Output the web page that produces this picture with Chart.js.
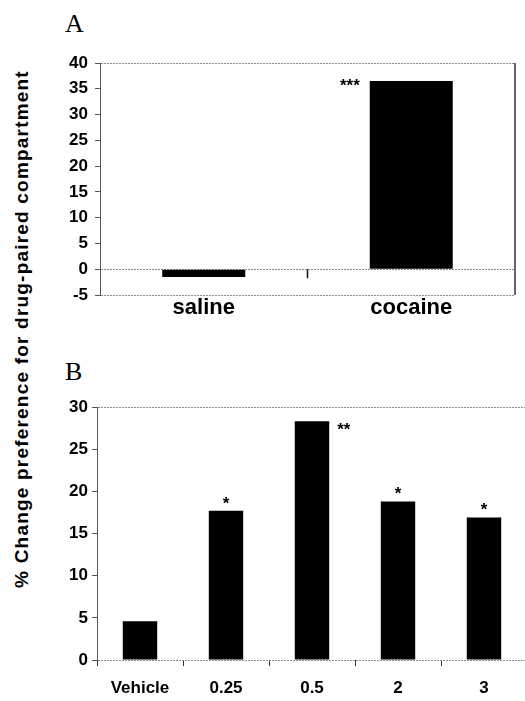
<!DOCTYPE html>
<html>
<head>
<meta charset="utf-8">
<script src="https://cdn.jsdelivr.net/npm/chart.js@4/dist/chart.umd.min.js"></script>
<style>
  html, body { margin: 0; padding: 0; background: #fff; }
  body { width: 525px; height: 701px; overflow: hidden; position: relative; }
  .panel { position: absolute; left: 0; }
  .letter { position: absolute; font-family: "Liberation Serif", serif; font-size: 26px; color: #000; line-height: 1; }
  #ytitle {
    position: absolute; left: 22px; top: 329px;
    transform: translate(-50%, -50%) rotate(-90deg);
    white-space: nowrap;
    font-family: "Liberation Sans", Arial, sans-serif; font-weight: bold; font-size: 19px;
    letter-spacing: 1.2px; color: #000;
  }
</style>
</head>
<body>
<div class="letter" style="left:65px; top:11px;">A</div>
<div class="letter" style="left:65px; top:359px;">B</div>
<div id="ytitle">% Change preference for drug-paired compartment</div>
<div class="panel" style="top:0; width:525px; height:330px;"><canvas id="chartA" width="525" height="330"></canvas></div>
<div class="panel" style="top:330px; width:545px; height:371px;"><canvas id="chartB" width="545" height="371"></canvas></div>
<script>
// panel A
const groupsA = ['saline', 'cocaine'];
const valuesA = [-1.5, 36.5];
const starsA = ['', '***'];
const yTicksA = [-5, 40, 5];   // min, max, step

// panel B
const dosesB = ['Vehicle', '0.25', '0.5', '2', '3'];
const valuesB = [4.6, 17.7, 28.3, 18.8, 16.9];
const starsB = ['', '*', '**', '*', '*'];
const yTicksB = [0, 30, 5];

const tickFont = { family: 'Liberation Sans', weight: 'bold', size: 17 };

function gridColor(lines) {
  return ctx => (ctx.tick && lines.includes(ctx.tick.value)) ? '#8a8a8a' : 'rgba(0,0,0,0)';
}

// asterisks over / beside bars
const starPlugin = {
  id: 'stars',
  afterDatasetsDraw(chart, args, opts) {
    const ctx = chart.ctx;
    const bars = chart.getDatasetMeta(0).data;
    ctx.save();
    ctx.fillStyle = '#000';
    ctx.font = 'bold 17px "Liberation Sans"';
    opts.labels.forEach((s, i) => {
      if (!s) return;
      const b = bars[i];
      const side = opts.side[i] || 'top';
      if (side === 'left') {
        ctx.textAlign = 'right';
        ctx.fillText(s, b.x - b.width / 2 - 10, b.y + 10);
      } else if (side === 'right') {
        ctx.textAlign = 'left';
        ctx.fillText(s, b.x + b.width / 2 + 8, b.y + 14);
      } else {
        ctx.textAlign = 'center';
        ctx.fillText(s, b.x, b.y - 2);
      }
    });
    ctx.restore();
  }
};

// panel A: right frame line and category ticks on the zero line
const frameA = {
  id: 'frameA',
  afterDatasetsDraw(chart) {
    const ctx = chart.ctx, a = chart.chartArea;
    const xs = chart.scales.x, ys = chart.scales.y;
    const y0 = ys.getPixelForValue(0);
    ctx.save();
    ctx.strokeStyle = '#333';
    ctx.lineWidth = 1.5;
    ctx.beginPath();
    ctx.moveTo(a.right, a.top);
    ctx.lineTo(a.right, a.bottom);
    ctx.stroke();
    ctx.strokeStyle = '#111';
    for (let i = 1; i < xs.ticks.length; i++) {
      const px = (xs.getPixelForValue(i - 1) + xs.getPixelForValue(i)) / 2;
      ctx.beginPath();
      ctx.moveTo(px, y0);
      ctx.lineTo(px, y0 + 9);
      ctx.stroke();
    }
    ctx.restore();
  }
};

new Chart(document.getElementById('chartA'), {
  type: 'bar',
  data: {
    labels: groupsA,
    datasets: [{ data: valuesA, backgroundColor: '#000', borderWidth: 0,
                 barPercentage: 0.4, categoryPercentage: 1 }]
  },
  options: {
    responsive: false,
    animation: false,
    layout: { padding: { top: 63, right: 10, left: 0, bottom: 0 } },
    plugins: {
      legend: { display: false },
      tooltip: { enabled: false },
      stars: { labels: starsA, side: ['', 'left'] }
    },
    scales: {
      x: {
        grid: { display: false, drawTicks: false },
        border: { display: false },
        ticks: { color: '#000', font: { family: 'Liberation Sans', weight: 'bold', size: 22 }, padding: 0 },
        afterFit: s => { s.height = 35; }
      },
      y: {
        min: yTicksA[0], max: yTicksA[1],
        ticks: { stepSize: yTicksA[2], color: '#000', font: tickFont, padding: 7 },
        grid: { color: gridColor([40, 0, -5]), tickColor: '#555', tickLength: 5, tickBorderDash: [] },
        border: { color: '#555', width: 1, dash: [2, 1] },
        afterFit: s => { s.width = 100; }
      }
    }
  },
  plugins: [starPlugin, frameA]
});

new Chart(document.getElementById('chartB'), {
  type: 'bar',
  data: {
    labels: dosesB,
    datasets: [{ data: valuesB, backgroundColor: '#000', borderWidth: 0,
                 barPercentage: 0.4, categoryPercentage: 1 }]
  },
  options: {
    responsive: false,
    animation: false,
    layout: { padding: { top: 77, right: 18, left: 0, bottom: 0 } },
    plugins: {
      legend: { display: false },
      tooltip: { enabled: false },
      stars: { labels: starsB, side: ['', 'top', 'right', 'top', 'top'] }
    },
    scales: {
      x: {
        grid: { offset: true, drawOnChartArea: false, tickColor: '#333', tickLength: 6 },
        border: { display: false },
        ticks: { color: '#000', font: { family: 'Liberation Sans', weight: 'bold', size: 17 }, padding: 12 },
        afterFit: s => { s.height = 41; }
      },
      y: {
        min: yTicksB[0], max: yTicksB[1],
        ticks: { stepSize: yTicksB[2], color: '#000', font: tickFont, padding: 4 },
        grid: { color: gridColor([30, 0]), tickColor: '#555', tickLength: 5, tickBorderDash: [] },
        border: { color: '#555', width: 1, dash: [2, 1] },
        afterFit: s => { s.width = 97; }
      }
    }
  },
  plugins: [starPlugin]
});
</script>
</body>
</html>
